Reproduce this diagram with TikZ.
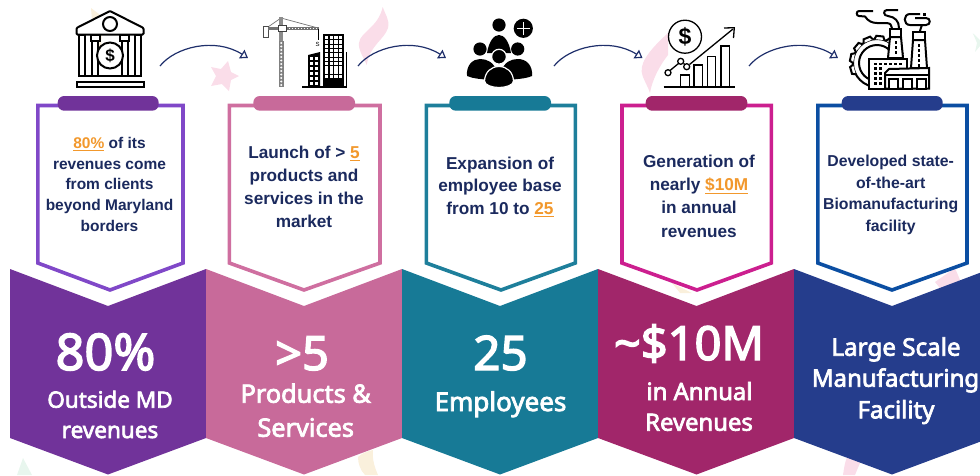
\documentclass[tikz,border=0pt]{standalone}
\usepackage{fontspec}
\setmainfont{Liberation Sans}
\newfontfamily\bigfont[FakeBold=3]{Noto Sans}
\usetikzlibrary{arrows.meta}
\definecolor{cPurple}{HTML}{71339A}
\definecolor{bPurple}{HTML}{8048C8}
\definecolor{cPink}{HTML}{C86A9A}
\definecolor{bPink}{HTML}{CF6FA0}
\definecolor{cTeal}{HTML}{177A96}
\definecolor{bTeal}{HTML}{1E7F9B}
\definecolor{cMaroon}{HTML}{A1266A}
\definecolor{bMagenta}{HTML}{CC1F8F}
\definecolor{cNavy}{HTML}{253D8C}
\definecolor{bNavy}{HTML}{0B4EA2}
\definecolor{bodyText}{HTML}{1B2A5E}
\definecolor{flowNavy}{HTML}{1F2F6B}
\definecolor{accent}{HTML}{F2982C}
\definecolor{palePink}{HTML}{FADDE9}
\definecolor{paleCream}{HTML}{FAF0DC}
\definecolor{paleGreen}{HTML}{E8F6EE}
\newcommand{\hl}[1]{{\color{accent}\underline{#1}}}
\tikzset{
  x=1pt,y=-1pt,
  chevron/.style={draw=none},
  callout/.style={line width=3.6pt,fill=white,miter limit=10},
  pill/.style={rounded corners=6.5pt},
  flow/.style={draw=flowNavy,line width=1.2pt,-{Triangle[open,length=7.4pt,width=10pt,fill=white,line width=1.2pt]}},
  bodytxt/.style={align=center,inner sep=0pt,text=bodyText,font=\bfseries},
  hugetxt/.style={anchor=base,inner sep=0pt,text=white},
  captxt/.style={anchor=base,inner sep=0pt,text=white},
  ink/.style={draw=black,line width=2pt,line join=miter},
  thin ink/.style={draw=black,line width=1.3pt},
}
\newcommand{\bigsz}[1]{\bigfont\fontsize{#1}{#1}\selectfont}
\begin{document}
\begin{tikzpicture}
\clip (0,0) rectangle (980,475);
% pale background decoration
\fill[paleCream] (91,8) -- (107,20) .. controls (100,30) and (100,50) .. (104,62) -- (93,62) -- (93,33) -- cycle;
\fill[palePink] (228,61) -- (231,72) -- (239,76) -- (231,80) -- (229,91) -- (222,84) -- (211,86) -- (216,76) -- (211,67) -- (221,69) -- cycle;
\fill[palePink] (382.7,7) .. controls (385,14) and (390,20) .. (388,28) .. controls (384,40) and (370,45) .. (366.7,65) .. controls (364,58) and (358,50) .. (359,43) .. controls (360,32) and (378,28) .. (382.7,7) -- cycle;
\fill[palePink] (668,33) .. controls (655,45) and (640,60) .. (641.7,72) .. controls (643,80) and (648,86) .. (650,93) .. controls (652,80) and (660,65) .. (668,55) -- cycle;
\fill[paleGreen] (972.7,33) -- (980,40) -- (980,46) -- (975,52) -- (977,43) -- cycle;
\fill[palePink] (955,268) -- (935,282) -- (943,292) -- (960,280) -- cycle;
\fill[palePink] (843,475) .. controls (844,468) and (845,462) .. (846.7,458) -- (861.7,460) .. controls (859,465) and (857,470) .. (855,475) -- cycle;
\fill[paleCream] (358,457) .. controls (362,453) and (368,451) .. (373,450) .. controls (372,460) and (375,468) .. (378,475) -- (365,475) .. controls (360,470) and (358,463) .. (358,457) -- cycle;
\fill[paleGreen] (23,458) -- (17,475) -- (32,475) -- cycle;
\fill[paleCream] (672,283) -- (692,293) -- (680,293) -- cycle;
% bottom chevrons
\fill[chevron,cPurple] (10,269) -- (108,306) -- (206,269) -- (206,438) -- (108,474.5) -- (10,438) -- cycle;
\fill[chevron,cPink] (206,269) -- (304,306) -- (402,269) -- (402,438) -- (304,474.5) -- (206,438) -- cycle;
\fill[chevron,cTeal] (402,269) -- (500,306) -- (598,269) -- (598,438) -- (500,474.5) -- (402,438) -- cycle;
\fill[chevron,cMaroon] (598,269) -- (696.5,306) -- (794,269) -- (794,438) -- (696.5,474.5) -- (598,438) -- cycle;
\fill[chevron,cNavy] (794,269) -- (892,306) -- (990,269) -- (990,438) -- (892,474.5) -- (794,438) -- cycle;
% callouts
\draw[callout,draw=bPurple] (37.8,105.5) -- (183,105.5) -- (183,263) -- (110,290) -- (37.8,263) -- cycle;
\draw[callout,draw=bPink] (229.3,105.5) -- (380,105.5) -- (380,263) -- (304,290) -- (229.3,263) -- cycle;
\draw[callout,draw=bTeal] (426.3,105.5) -- (575.3,105.5) -- (575.3,263) -- (501,290) -- (426.3,263) -- cycle;
\draw[callout,draw=bMagenta] (622,105.5) -- (771.3,105.5) -- (771.3,263) -- (697,290) -- (622,263) -- cycle;
\draw[callout,draw=bNavy] (817.8,105.5) -- (967,105.5) -- (967,263) -- (892,290) -- (817.8,263) -- cycle;
% pills
\fill[pill,cPurple] (57.7,96) rectangle (158.7,110.7);
\fill[pill,cPink] (253.3,96) rectangle (355,110.7);
\fill[pill,cTeal] (449.3,96) rectangle (551,110.7);
\fill[pill,cMaroon] (645.7,96) rectangle (747.3,110.7);
\fill[pill,cNavy] (841.7,96) rectangle (942.7,110.7);
% body text
\node[bodytxt,font=\bfseries\fontsize{15.5}{20.8}\selectfont] (t1) at (109.5,184.3) {\hl{80\%} of its\\revenues come\\from clients\\beyond Maryland\\borders};
\node[bodytxt,font=\bfseries\fontsize{17.2}{23.2}\selectfont] (t2) at (304,186.8) {Launch of > \hl{5}\\products and\\services in the\\market};
\node[bodytxt,font=\bfseries\fontsize{17.2}{22.7}\selectfont] (t3) at (500,186.7) {Expansion of\\employee base\\from 10 to \hl{25}};
\node[bodytxt,font=\bfseries\fontsize{17.2}{23.3}\selectfont] (t4) at (699,196) {Generation of\\nearly \hl{\$10M}\\in annual\\revenues};
\node[bodytxt,font=\bfseries\fontsize{15.8}{21.5}\selectfont] (t5) at (890.7,195) {Developed state-\\of-the-art\\Biomanufacturing\\facility};
% chevron text
\node[hugetxt,font=\bigsz{50.5}] (n1) at (105.5,370) {80\%};
\node[captxt,font=\bigsz{22.5}] (c1a) at (110,407.7) {Outside MD};
\node[captxt,font=\bigsz{22.5}] (c1b) at (110,438) {revenues};
\node[hugetxt,font=\bigsz{47}] (n2) at (302,370) {>5};
\node[captxt,font=\bigsz{25.3}] (c2a) at (305.7,402.7) {Products \&};
\node[captxt,font=\bigsz{25.3}] (c2b) at (305.7,436.7) {Services};
\node[hugetxt,font=\bigsz{47.5}] (n3) at (500.5,370) {25};
\node[captxt,font=\bigsz{26}] (c3a) at (500.5,411) {Employees};
\node[hugetxt,font=\bigsz{47}] (n4) at (689,360) {\char`\~\$10M};
\node[captxt,font=\bigsz{23.8}] (c4a) at (699.5,400) {in Annual};
\node[captxt,font=\bigsz{23.8}] (c4b) at (699,430.7) {Revenues};
\node[captxt,font=\bigsz{24.2}] (c5a) at (896,355.7) {Large Scale};
\node[captxt,font=\bigsz{24}] (c5b) at (895.5,386.7) {Manufacturing};
\node[captxt,font=\bigsz{24}] (c5c) at (896,418.3) {Facility};
% bank icon
\draw[ink,fill=white,rounded corners=1pt] (76.5,28) -- (110,11) -- (143.5,28) -- (143.5,34.5) -- (76.5,34.5) -- cycle;
\draw[ink,fill=white] (110,24) circle[radius=7pt];
\foreach \cx in {79,92,122,135}{\draw[ink,fill=white] (\cx,34.5) rectangle (\cx+6,76);}
\draw[ink,fill=white] (91,34.5) rectangle (100,41);
\draw[ink,fill=white] (120,34.5) rectangle (129,41);
\draw[ink,fill=white] (110,55.5) circle[radius=13pt];
\node[inner sep=0pt,font=\bfseries\fontsize{17}{17}\selectfont] (bankdollar) at (110,55.5) {\$};
\draw[ink] (79,76) -- (141,76);
\draw[ink,fill=white] (76.5,81.5) rectangle (143.5,87);
% crane and towers icon
\draw[draw=black!55,line width=.7pt] (281,18) -- (318,28) (281,18) -- (268,27);
\fill[black!45] (279,17) rectangle (283,27);
\draw[draw=black!70,line width=.7pt,fill=white] (263.5,26) rectangle (268,37);
\fill[black!55] (268,27) rectangle (319,30);
\foreach \jx in {286,289,...,316}{\fill[white] (\jx,28) rectangle (\jx+1.2,29.2);}
\draw[draw=black!75,line width=.7pt,fill=white] (278,25.5) rectangle (286,31.5);
\fill[black!45] (279,31.5) rectangle (283,41);
\fill[black!50] (278.5,41) rectangle (284,87);
\foreach \my in {43,46.5,...,85}{\fill[white] (281.3,\my) circle[radius=1.1pt];}
\draw[black,line width=.7pt] (318,29) -- (318,40);
\node[inner sep=0pt,font=\fontsize{6}{6}\selectfont] (cranehook) at (317.5,44) {S};
\fill[black] (302,85.5) rectangle (347,87.5);
\fill[black] (308,55) -- (320,52) -- (320,86) -- (308,86) -- cycle;
\foreach \wy in {57,62,...,82}{\foreach \wx in {310,314.5}{\fill[white] (\wx,\wy) rectangle (\wx+3.2,\wy+3.2);}}
\fill[black] (323,33.5) rectangle (343.5,86);
\foreach \wy in {36,40.3,...,78}{\foreach \wx in {325,329.6,334.2,338.8}{\fill[white] (\wx,\wy) rectangle (\wx+3.4,\wy+3.4);}}
\fill[black] (345.5,52) rectangle (347,86);
% people icon
\fill[black] (499,25) circle[radius=6.6pt];
\fill[black] (523.3,28.3) circle[radius=9.6pt];
\draw[white,line width=1.4pt] (523.3,22) -- (523.3,34.6) (517,28.3) -- (529.6,28.3);
\fill[black] (487,53) .. controls (489,41) and (494,35) .. (499,35) .. controls (504,35) and (509,41) .. (511,53) -- cycle;
\fill[black] (480,49) circle[radius=6.6pt];
\fill[black] (517.7,49) circle[radius=6.6pt];
\fill[black] (467,76) .. controls (466,65) and (473,59) .. (480,59) .. controls (487,59) and (494,62) .. (497,72) -- (490,80) .. controls (482,79) and (474,79) .. (467,76) -- cycle;
\fill[black] (532,76) .. controls (533,65) and (526,59) .. (518,59) .. controls (511,59) and (504,62) .. (501,72) -- (508,80) .. controls (516,79) and (525,79) .. (532,76) -- cycle;
\draw[white,line width=1.2pt,fill=black] (499,56.7) circle[radius=7.4pt];
\draw[white,line width=1.2pt,fill=black] (484.5,81) .. controls (485,72) and (491,66.5) .. (499,66.5) .. controls (507,66.5) and (513,72) .. (513.5,81) .. controls (513.5,85) and (506,87.5) .. (499,87.5) .. controls (492,87.5) and (484.5,85) .. (484.5,81) -- cycle;
% revenue chart icon
\draw[thin ink] (663.5,87) -- (735,87);
\draw[thin ink,fill=white] (680.7,87) rectangle (689.3,75);
\draw[thin ink,fill=white] (694,87) rectangle (702.7,65);
\draw[thin ink,fill=white] (707.3,87) rectangle (715.7,56.7);
\draw[thin ink,fill=white] (721,87) rectangle (729.3,46);
\draw[thin ink] (670,70.5) -- (678.5,63.5) (683.5,63.5) -- (685,64.5) (689.5,64.5) -- (733,29);
\draw[thin ink] (724,28) -- (734.3,27.7) -- (733.5,38);
\draw[thin ink,fill=white] (668,72.7) circle[radius=3pt];
\draw[thin ink,fill=white] (680.7,61.3) circle[radius=3pt];
\draw[thin ink,fill=white] (686.7,66.7) circle[radius=3pt];
\draw[thin ink,fill=white] (685,36.7) circle[radius=16.5pt];
\node[inner sep=0pt,font=\bfseries\fontsize{23}{23}\selectfont] (chartdollar) at (685,36.7) {\$};
% factory icon
\draw[ink,fill=white] (877,63) circle[radius=24pt];
\foreach \ga in {90,118,...,300}{\draw[ink,fill=white,shift={(877,63)},rotate=\ga] (-5,23.5) -- (-3.5,27) -- (3.5,27) -- (5,23.5);}
\draw[ink,fill=white] (877,63) circle[radius=18pt];
\draw[ink,fill=white] (890,37) -- (888,58) -- (903,58) -- (901,37) -- cycle;
\draw[ink,fill=white] (890,29) rectangle (901,37);
\foreach \dy in {41,46,51}{\fill[black] (894.5,\dy) rectangle (897,\dy+2.5);}
\draw[ink,fill=white] (913,40) -- (911,68) -- (927,68) -- (925,40) -- cycle;
\draw[ink,fill=white] (913,32) rectangle (924.5,40);
\foreach \dy in {44,49,54,59,64}{\fill[black] (917.5,\dy) rectangle (920,\dy+2.5);}
\draw[ink,fill=white] (869,58.5) rectangle (906.5,88.5);
\foreach \dx in {874,879,884,889,894,899}{\fill[black] (\dx,62.5) rectangle (\dx+2.5,65);}
\foreach \dy in {67,72,77,82}{\foreach \dx in {874,879}{\fill[black] (\dx,\dy) rectangle (\dx+2.5,\dy+2.5);}}
\draw[ink,fill=white] (885,88.5) -- (885,73) -- (889,69) -- (929,68) -- (929,88.5) -- cycle;
\draw[ink] (886,75) -- (929,75);
\foreach \dx in {889,903,917}{\draw[ink,fill=white] (\dx,88.5) rectangle (\dx+9,79);}
\draw[ink] (873,11) -- (859,11) .. controls (856,11) and (856,16) .. (859,16) -- (865,16.5) .. controls (868,21) and (872,23) .. (877,23) -- (886,23) .. controls (890,23) and (892,25) .. (892,28);
\draw[ink] (898,10) -- (887,10) .. controls (883,10) and (883,16) .. (888,16) .. controls (895,17) and (899,21) .. (899,28);
\draw[ink] (920,14) -- (910,14) .. controls (903,14) and (903,25) .. (910,25) -- (926,25) .. controls (931,25) and (931,18) .. (926,18) -- (915,18);
\draw[ink] (922,25) .. controls (922,27) and (920,28) .. (920,31);
\fill[black] (923,12.5) rectangle (926,15.5);
% connectors
\coordinate (s1) at (160,66); \coordinate (e1) at (248,58);
\coordinate (s2) at (358,66); \coordinate (e2) at (446,58);
\coordinate (s3) at (554,66); \coordinate (e3) at (642.5,58);
\coordinate (s4) at (749,66); \coordinate (e4) at (838,58);
\draw[flow] (s1) .. controls +(15,-19) and +(-33,-21) .. (e1);
\draw[flow] (s2) .. controls +(15,-19) and +(-33,-21) .. (e2);
\draw[flow] (s3) .. controls +(15,-19) and +(-33,-21) .. (e3);
\draw[flow] (s4) .. controls +(15,-19) and +(-33,-21) .. (e4);
\end{tikzpicture}
\end{document}
